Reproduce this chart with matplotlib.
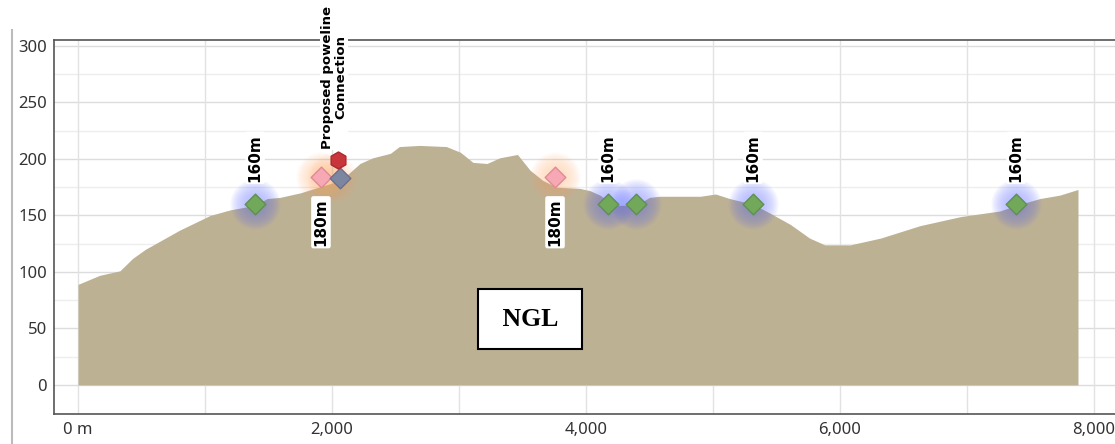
import numpy as np
import matplotlib.pyplot as plt
from matplotlib.lines import Line2D

# ground profile (distance in m, elevation in m)
dist = [0, 170, 330, 430, 530, 800, 1040, 1200, 1394, 1490, 1590, 1750, 2010,
        2120, 2220, 2320, 2460, 2530, 2690, 2900, 3010, 3110, 3220, 3320, 3460,
        3560, 3660, 3770, 3950, 4030, 4110, 4173, 4250, 4394, 4500, 4580, 4900,
        5020, 5130, 5315, 5450, 5610, 5760, 5880, 6080, 6320, 6630, 6950, 7260,
        7386, 7575, 7730, 7874]
elev = [89, 97, 101, 112, 120, 137, 150, 155, 159, 165, 166, 170, 179,
        186, 196, 201, 205, 211, 212, 211, 206, 197, 196, 201, 204,
        190, 181, 175, 174, 172, 168, 163, 159, 159, 166, 167, 167,
        169, 165, 160, 152, 142, 130, 124, 124, 130, 141, 149, 154,
        159, 165, 168, 173]

# markers
green_x = [1394, 4173, 4394, 5315, 7386]
green_y = [160, 160, 160, 160, 160]
green_lbl_x = [1394, 4173, 5315, 7386]
pink_x = [1913, 3756]
pink_y = [184, 184]
conn_x, conn_y = 2063, 183
red_x, red_y = 2047, 199

yticks = [0, 50, 100, 150, 200, 250, 300]
xticks = [0, 2000, 4000, 6000, 8000]
xtick_labels = ['0 m', '2,000', '4,000', '6,000', '8,000']

fig = plt.figure(figsize=(11.15, 4.44), dpi=100)
ax = fig.add_axes([54 / 1115, 30 / 444, 1071 / 1115, 374 / 444])
ax.set_xlim(-189, 8244)
ax.set_ylim(-25.7, 305.3)

# grid
for y in np.arange(0, 301, 25):
    ax.axhline(y, color='#dcdcdc' if y % 50 == 0 else '#eeeeee', lw=1, zorder=0)
for x in np.arange(0, 8001, 1000):
    ax.axvline(x, color='#e2e2e2', lw=1, zorder=0)

ax.fill_between(dist, 0, elev, color='#bdb194', lw=0, zorder=1)

# soft glows behind the markers
for s in np.linspace(1300, 150, 10):
    ax.scatter(green_x, green_y, s=s, color='#4a5cff', alpha=0.045, lw=0, zorder=2)
    ax.scatter(pink_x, pink_y, s=s, color='#ffa860', alpha=0.04, lw=0, zorder=2)
    ax.scatter([conn_x - 60], [conn_y], s=s, color='#ffa860', alpha=0.03, lw=0, zorder=2)

ax.scatter(green_x, green_y, marker='D', s=110, color='#72a85a', edgecolor='#5e8f55', lw=1, zorder=4)
ax.scatter(pink_x, pink_y, marker='D', s=110, color='#f6a9b4', edgecolor='#e08a95', lw=1, zorder=4)
ax.scatter([conn_x], [conn_y], marker='D', s=110, color='#7d86a0', edgecolor='#6c6f88', lw=1, zorder=5)
ax.scatter([red_x], [red_y], marker='h', s=150, color='#c8353a', edgecolor='#a82a2e', lw=1, zorder=5)

lbl_box = dict(boxstyle='round,pad=0.15', fc='white', ec='none')
for x in green_lbl_x:
    ax.text(x, 180, '160m', rotation=90, ha='center', va='bottom', fontsize=11,
            fontweight='bold', bbox=lbl_box, zorder=6)
for x in pink_x:
    ax.text(x, 144, '180m', rotation=90, ha='center', va='center', fontsize=11,
            fontweight='bold', bbox=lbl_box, zorder=6)
ax.text(red_x - 30, 209, 'Proposed poweline\nConnection', rotation=90, ha='center', va='bottom',
        fontsize=9.5, fontweight='bold', linespacing=1.0,
        bbox=dict(boxstyle='square,pad=0.1', fc='white', ec='none'), zorder=7, clip_on=False)

ax.text(3560, 58, ' NGL ', ha='center', va='center', fontsize=18.5, fontweight='bold',
        family='Liberation Serif',
        bbox=dict(boxstyle='square,pad=0.72', fc='white', ec='black', lw=1.5), zorder=6)

ax.set_yticks(yticks)
ax.set_xticks(xticks)
ax.set_xticklabels(xtick_labels)
ax.tick_params(length=0, labelsize=12, colors='#333333', pad=6)
ax.tick_params(axis='y', pad=5)
for lbl in ax.get_xticklabels() + ax.get_yticklabels():
    lbl.set_family('Noto Sans')
for side in ['left', 'bottom', 'top']:
    ax.spines[side].set_color('#555555')
    ax.spines[side].set_linewidth(1.2)
ax.spines['right'].set_visible(False)
ax.set_axisbelow(True)

fig.add_artist(Line2D([12 / 1115, 12 / 1115], [0, 414 / 444], color='#bbbbbb', lw=1.5))

fig.savefig('out.png', dpi=100)
